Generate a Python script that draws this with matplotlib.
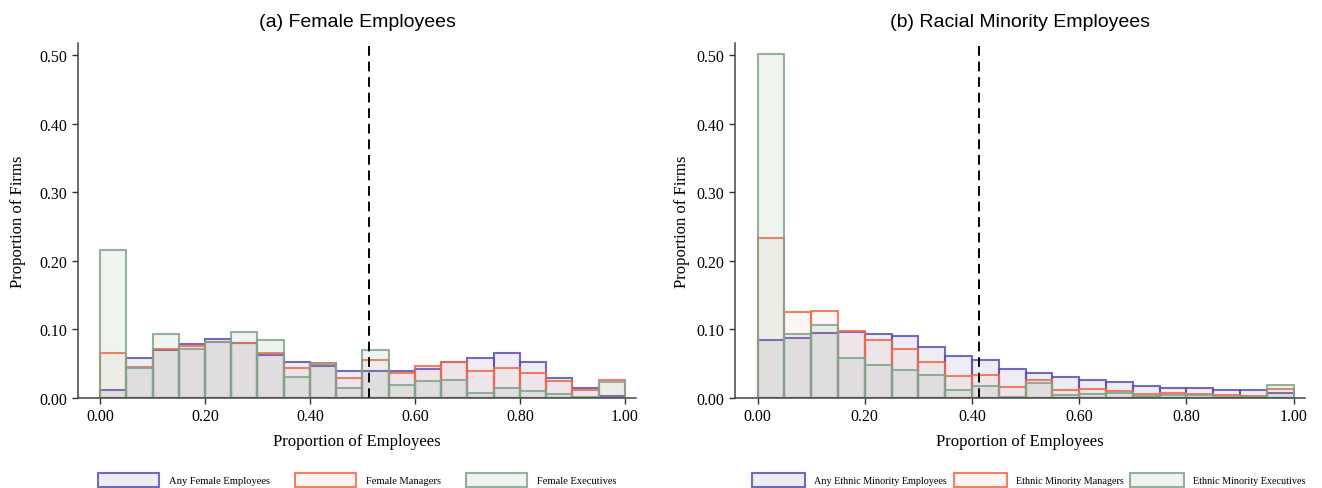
import numpy as np
import matplotlib.pyplot as plt
from matplotlib.colors import to_rgb

# bin edges shared by every histogram (20 bins of width 0.05)
bin_left = np.arange(20) * 0.05
bin_w = 0.05

# (a) share of female employees per firm, by level
female_any = [0.012, 0.058, 0.070, 0.079, 0.086, 0.081, 0.063, 0.053, 0.046, 0.040,
              0.040, 0.039, 0.043, 0.053, 0.058, 0.065, 0.052, 0.029, 0.014, 0.003]
female_mgr = [0.065, 0.045, 0.071, 0.076, 0.082, 0.080, 0.066, 0.044, 0.051, 0.029,
              0.055, 0.037, 0.047, 0.053, 0.040, 0.044, 0.037, 0.025, 0.012, 0.026]
female_exec = [0.216, 0.044, 0.093, 0.072, 0.082, 0.096, 0.084, 0.031, 0.050, 0.014,
               0.070, 0.019, 0.025, 0.027, 0.008, 0.014, 0.010, 0.006, 0.002, 0.023]

# (b) share of racial minority employees per firm, by level
ethnic_any = [0.084, 0.088, 0.095, 0.096, 0.094, 0.090, 0.075, 0.062, 0.056, 0.043,
              0.037, 0.031, 0.027, 0.023, 0.018, 0.015, 0.014, 0.011, 0.011, 0.008]
ethnic_mgr = [0.234, 0.125, 0.127, 0.098, 0.085, 0.071, 0.053, 0.032, 0.033, 0.016,
              0.027, 0.012, 0.013, 0.010, 0.006, 0.007, 0.006, 0.005, 0.003, 0.013]
ethnic_exec = [0.502, 0.094, 0.106, 0.058, 0.048, 0.041, 0.033, 0.011, 0.017, 0.002,
               0.022, 0.004, 0.006, 0.008, 0.003, 0.004, 0.004, 0.002, 0.001, 0.019]

female_cut = 0.512
ethnic_cut = 0.414

colors = ['#5b52b0', '#f06a4a', '#7fa58c']
fill_alpha = [0.10, 0.06, 0.12]

serif = 'Liberation Serif'
sans = 'Liberation Sans'

fig = plt.figure(figsize=(13.22, 4.89), dpi=100)
ax1 = fig.add_axes([0.059, 0.184, 0.422, 0.726])
ax2 = fig.add_axes([0.556, 0.184, 0.431, 0.726])


def draw_panel(ax, series, labels, title, cut, ypad, leg_x, leg_size, hlen, colsp, tpad):
    handles = []
    for vals, lab, c, a in zip(series, labels, colors, fill_alpha):
        bars = ax.bar(bin_left, vals, width=bin_w, align='edge',
                      facecolor=(*to_rgb(c), a), edgecolor=(*to_rgb(c), 0.85),
                      linewidth=1.5, label=lab)
        handles.append(bars)
    ax.axvline(cut, color='black', linestyle=(0, (5, 3)), linewidth=1.4)

    ax.set_xlim(-0.042, 1.021)
    ax.set_ylim(0, 0.518)
    xt = np.arange(0, 1.01, 0.2)
    yt = np.arange(0, 0.51, 0.1)
    ax.set_xticks(xt)
    ax.set_yticks(yt)
    ax.set_xticklabels([f'{t:.2f}' for t in xt], fontfamily=serif, fontsize=11.5)
    ax.set_yticklabels([f'{t:.2f}' for t in yt], fontfamily=serif, fontsize=11.5)
    ax.tick_params(length=4, width=1, color='#333333')
    for side in ['top', 'right']:
        ax.spines[side].set_visible(False)
    for side in ['left', 'bottom']:
        ax.spines[side].set_color('#444444')
        ax.spines[side].set_linewidth(1.1)

    ax.set_xlabel('Proportion of Employees', fontfamily=serif, fontsize=12, labelpad=6)
    ax.set_ylabel('Proportion of Firms', fontfamily=serif, fontsize=12, labelpad=ypad)
    ax.set_title(title, fontfamily=sans, fontsize=14, pad=12)

    fig.legend(handles=handles, loc='center left',
               bbox_to_anchor=(leg_x / 1322, 1 - 481 / 489),
               ncol=3, frameon=False, borderaxespad=0, borderpad=0,
               prop={'family': serif, 'size': leg_size},
               handlelength=hlen, handleheight=1.65, handletextpad=tpad,
               columnspacing=colsp)


draw_panel(ax1, [female_any, female_mgr, female_exec],
           ['Any Female Employees', 'Female Managers', 'Female Executives'],
           '(a) Female Employees', female_cut, 10, 98, 7.6, 5.8, 2.4, 0.9)
draw_panel(ax2, [ethnic_any, ethnic_mgr, ethnic_exec],
           ['Any Ethnic Minority Employees', 'Ethnic Minority Managers', 'Ethnic Minority Executives'],
           '(b) Racial Minority Employees', ethnic_cut, 5, 752, 7.3, 5.25, 0.65, 0.9)

fig.savefig('out.png', dpi=100)
